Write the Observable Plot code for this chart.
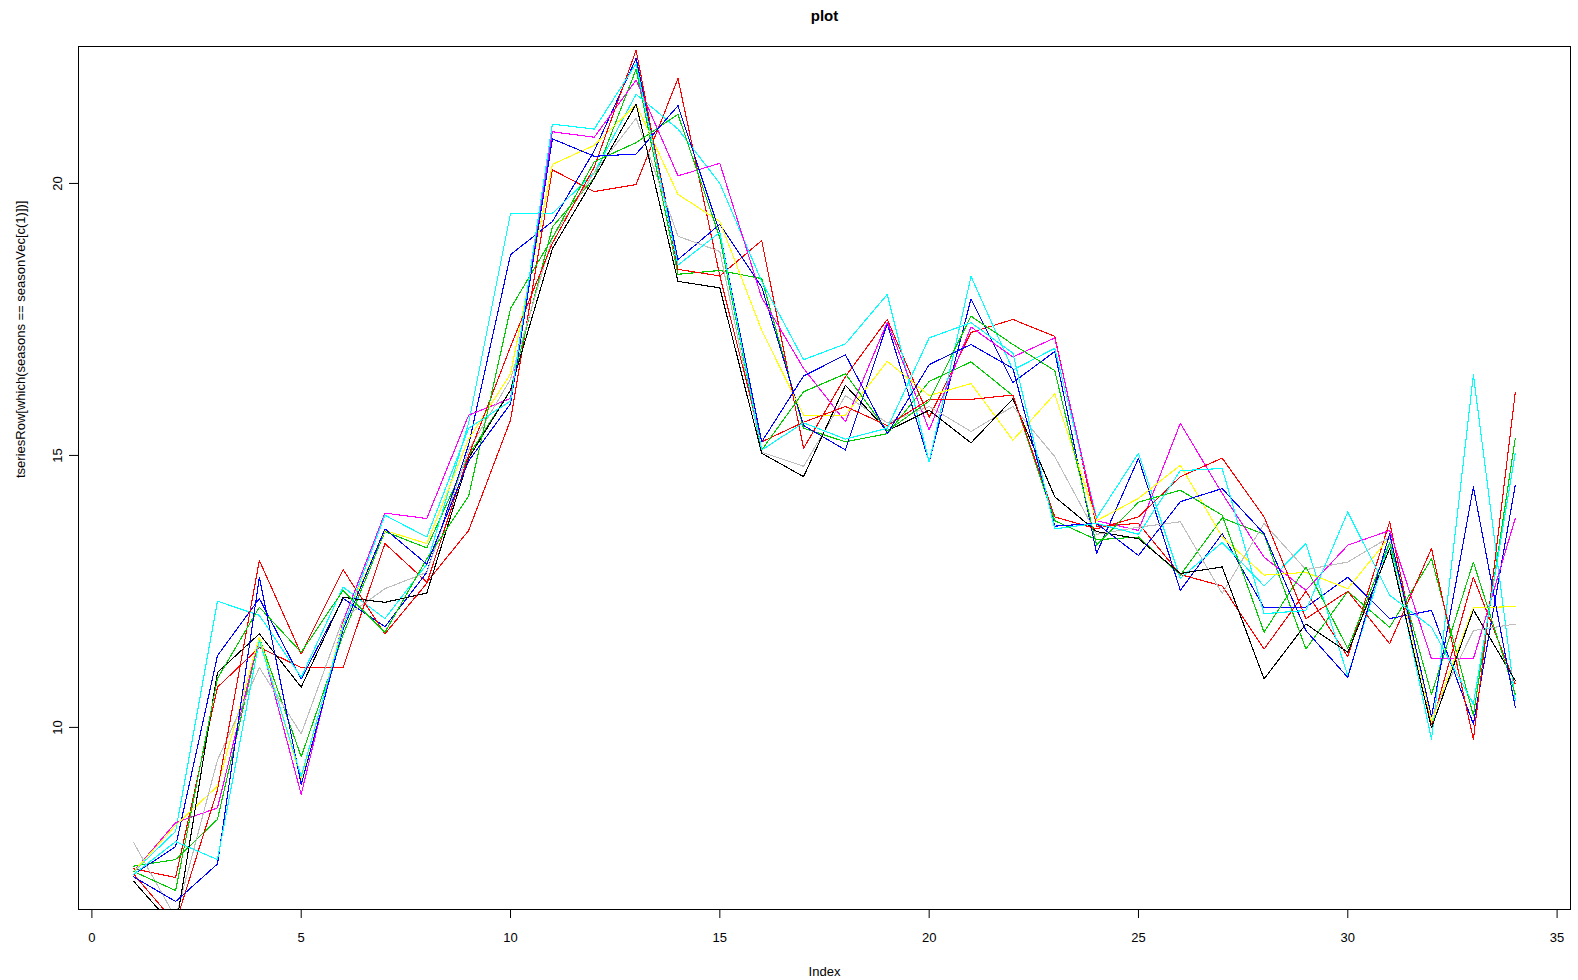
<!DOCTYPE html>
<html><head><meta charset="utf-8">
<script src="https://cdn.jsdelivr.net/npm/d3@7"></script>
<script src="https://cdn.jsdelivr.net/npm/@observablehq/plot@0.6"></script>
<style>body{margin:0;background:#fff;} svg{display:block;}</style>
</head><body><div id="chart"></div>
<script>
const title = "plot";
const xLabel = "Index";
const yLabel = "tseriesRow[which(seasons == seasonVec[c(1)])]";
const xTicks = [0, 5, 10, 15, 20, 25, 30, 35];
const yTicks = [10, 15, 20];
const index = d3.range(1, 35);

const s01 = [7.4, 7.24, 10.74, 11.47, 11.10, 11.10, 13.38, 12.67, 13.62, 15.65, 20.25, 19.85, 19.98, 21.93, 18.3, 18.95, 15.13, 16.45, 17.5, 15.7, 17.26, 17.5, 17.19, 13.7, 13.75, 12.81, 12.6, 11.44, 12.5, 11.3, 13.78, 10.05, 12.76, 10.8];
const s02 = [7.45, 7.57, 8.31, 11.65, 9.46, 11.7, 13.6, 13.3, 15.0, 16.2, 19.2, 20.1, 22.1, 18.33, 18.4, 18.25, 15.5, 15.25, 15.4, 16.36, 16.72, 16.1, 13.8, 13.45, 13.5, 12.8, 13.85, 13.55, 11.44, 12.5, 11.84, 13.1, 10.22, 15.31];
const s03 = [7.3, 7.81, 11.32, 12.37, 10.89, 12.37, 11.85, 12.85, 15.2, 18.69, 19.3, 20.6, 22.3, 18.6, 19.25, 18.1, 15.55, 15.1, 17.42, 14.88, 17.88, 16.34, 16.91, 13.2, 14.95, 12.52, 13.56, 12.2, 12.21, 12.76, 12.0, 12.15, 10.06, 14.45];
const s04 = [7.35, 8.09, 12.32, 12.06, 10.92, 12.58, 12.0, 13.0, 15.6, 19.45, 19.45, 20.2, 21.64, 21.0, 20.0, 18.2, 16.76, 17.05, 17.96, 14.88, 18.29, 16.57, 16.97, 13.85, 15.04, 12.74, 13.4, 12.6, 13.38, 10.95, 13.4, 9.78, 16.48, 10.5];
const s05 = [7.35, 8.25, 8.52, 11.66, 8.77, 11.95, 13.94, 13.84, 15.74, 16.05, 20.95, 20.85, 21.9, 20.14, 20.37, 17.9, 16.6, 15.62, 17.45, 15.47, 17.36, 16.81, 17.16, 13.8, 13.62, 15.59, 14.3, 13.13, 12.52, 13.35, 13.62, 11.26, 11.26, 13.84];
const s06 = [7.35, 8.2, 8.92, 11.66, 9.04, 11.9, 13.62, 13.38, 15.3, 16.5, 20.35, 20.7, 21.45, 19.8, 19.3, 17.3, 15.74, 15.74, 16.73, 16.1, 16.32, 15.28, 16.13, 13.8, 14.21, 14.82, 13.5, 12.8, 12.85, 12.55, 13.5, 10.1, 12.2, 12.22];
const s07 = [7.88, 6.5, 9.4, 11.1, 9.88, 12.0, 12.55, 12.85, 15.1, 16.4, 19.0, 20.2, 21.2, 19.03, 18.75, 15.06, 14.8, 16.1, 15.6, 15.9, 15.44, 15.9, 14.98, 13.55, 13.68, 13.78, 12.46, 13.75, 12.9, 13.04, 13.5, 10.2, 11.78, 11.9];
const s08 = [7.17, 6.3, 11.01, 11.72, 10.74, 12.39, 12.30, 12.47, 14.95, 16.2, 18.8, 20.1, 21.46, 18.2, 18.08, 15.04, 14.61, 16.29, 15.45, 15.83, 15.23, 16.04, 14.24, 13.6, 13.47, 12.83, 12.95, 10.89, 11.9, 11.38, 13.29, 9.99, 12.16, 10.86];
const s09 = [7.3, 6.4, 8.85, 13.07, 11.35, 12.90, 11.72, 12.65, 15.0, 17.0, 18.9, 20.3, 22.45, 18.42, 18.3, 15.25, 15.61, 15.9, 15.55, 16.03, 16.03, 16.11, 13.87, 13.65, 13.87, 14.61, 14.95, 13.87, 12.0, 12.5, 11.54, 13.29, 9.78, 16.15];
const s10 = [7.35, 7.0, 10.9, 12.21, 11.38, 12.52, 11.75, 13.1, 14.25, 17.7, 19.0, 20.4, 20.75, 21.27, 19.0, 15.1, 16.17, 16.5, 15.45, 16.0, 17.56, 17.04, 16.56, 13.35, 14.14, 14.36, 13.9, 11.75, 12.95, 11.45, 13.4, 10.61, 13.04, 10.61];
const s11 = [7.25, 6.80, 7.49, 12.76, 8.95, 11.8, 13.65, 13.0, 14.9, 15.95, 20.82, 20.5, 20.54, 21.43, 19.1, 15.25, 16.46, 16.85, 15.4, 16.67, 17.04, 16.6, 13.7, 13.75, 13.16, 14.15, 14.39, 13.56, 11.78, 10.92, 13.56, 10.2, 14.42, 10.37];
const s12 = [7.3, 7.9, 7.57, 11.6, 9.1, 11.85, 13.9, 13.5, 15.5, 16.0, 21.09, 21.0, 22.2, 18.5, 19.1, 15.1, 15.6, 15.3, 15.5, 17.16, 17.44, 16.88, 13.65, 13.75, 13.55, 14.72, 14.76, 12.09, 12.15, 13.96, 12.43, 11.84, 10.43, 15.04];

const seriesValues = [s01, s02, s03, s04, s05, s06, s07, s08, s09, s10, s11, s12];
const seriesColors = ["#FF0000", "#00CD00", "#0000FF", "#00FFFF", "#FF00FF", "#FFFF00", "#BEBEBE", "#000000",
                      "#FF0000", "#00CD00", "#0000FF", "#00FFFF"];

// R-style axis limits: range of the first series extended by 4%
const xr = d3.extent(index), xpad = (xr[1] - xr[0]) * 0.04;
const yr = d3.extent(s01), ypad = (yr[1] - yr[0]) * 0.04;

const lineMarks = seriesValues.map((vals, k) =>
  Plot.line(index.map((x, i) => ({x, y: vals[i]})), {
    x: "x", y: "y", stroke: seriesColors[k], strokeWidth: 1.1, clip: true,
    shapeRendering: "crispEdges"
  })
);

const chart = Plot.plot({
  width: 1578, height: 980,
  marginLeft: 78, marginRight: 8, marginTop: 46, marginBottom: 71,
  style: {fontFamily: "'Liberation Sans', Arial, sans-serif", fontSize: "13px", background: "#fff"},
  x: {domain: [xr[0] - xpad, xr[1] + xpad]},
  y: {domain: [yr[0] - ypad, yr[1] + ypad]},
  marks: [
    ...lineMarks,
    Plot.frame({stroke: "#000", strokeWidth: 1}),
    Plot.axisX({ticks: xTicks, tickSize: 9, tickPadding: 14, label: null, fontSize: 13}),
    Plot.axisY({ticks: yTicks, tickSize: 9, tickPadding: 8, tickRotate: -90, label: null, fontSize: 13}),
    Plot.text([title], {frameAnchor: "top", dy: -36, fontWeight: "bold", fontSize: 15}),
    Plot.text([xLabel], {frameAnchor: "bottom", dy: 66, fontSize: 13}),
    Plot.text([yLabel], {frameAnchor: "left", dx: -58, rotate: -90, fontSize: 13})
  ]
});
document.getElementById("chart").append(chart);
</script>
</body></html>
